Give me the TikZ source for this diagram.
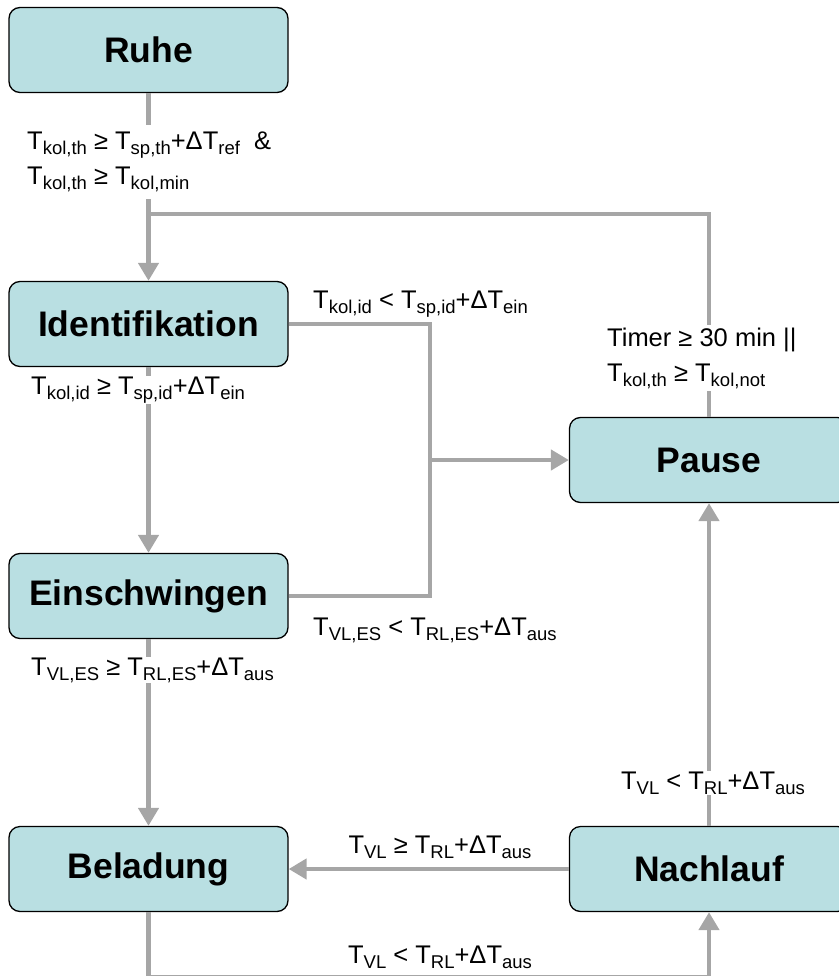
\documentclass[tikz,border=0pt]{standalone}
\usepackage{fontspec}
\setmainfont{Liberation Sans}
\usetikzlibrary{arrows.meta}
\definecolor{boxfill}{RGB}{185,223,226}
\definecolor{linegray}{RGB}{166,166,166}
% lowered, smaller index text
\newcommand\lo[1]{\raisebox{-5pt}{\fontsize{18.5}{18.5}\selectfont #1}}
\begin{document}
\begin{tikzpicture}[x=1pt,y=-1pt,
  state/.style={draw=black, line width=1.3pt, fill=boxfill, rounded corners=11pt,
    minimum width=279pt, minimum height=85pt, inner sep=0pt,
    font=\fontsize{35.5}{40}\selectfont\bfseries},
  conn/.style={draw=linegray, line width=4.5pt},
  arr/.style={conn, -{Triangle[width=20pt,length=18pt]}},
  cond/.style={inner sep=3pt, font=\fontsize{25.5}{35}\selectfont, align=left},
  gap/.style={cond, fill=white}]
\useasboundingbox (0,0) rectangle (838,976);

% states
\node[state] (ruhe)   at (148.5,50)  {Ruhe};
\node[state] (ident)  at (148.5,324) {Identifikation};
\node[state] (einsch) at (148.5,596) {Einschwingen};
\node[state] (belad)  at (148.5,869) {Beladung};
\node[state] (pause)  at (709,460)   {Pause};
\node[state] (nach)   at (709,869)   {Nachlauf};

% junction points
\coordinate (top)   at (148.5,214);
\coordinate (split) at (430,460);
\coordinate (floor) at (148.5,977);

% transitions
\draw[arr]  (ruhe.south) -- (ident.north);
\draw[conn] (pause.north) |- (top);
\draw[arr]  (ident.south) -- (einsch.north);
\draw[arr]  (einsch.south) -- (belad.north);
\draw[conn] (ident.east) -| (split |- einsch.east) -- (einsch.east);
\draw[arr]  (split) -- (pause.west);
\draw[arr]  (nach.west) -- (belad.east);
\draw[arr]  (nach.north) -- (pause.south);
\draw[arr]  (belad.south) -- (floor) -| (nach.south);

% transition conditions
\node[gap, anchor=west, inner ysep=7pt] (c1) at (24,162)
  {T\lo{kol,th} ≥ T\lo{sp,th}+ΔT\lo{ref}~~\&\\T\lo{kol,th} ≥ T\lo{kol,min}};
\node[gap, anchor=west] (c2) at (604,358)
  {Timer ≥ 30 min ||\\T\lo{kol,th} ≥ T\lo{kol,not}};
\node[cond, anchor=west] (c3) at (310,304) {T\lo{kol,id} < T\lo{sp,id}+ΔT\lo{ein}};
\node[gap, anchor=west, inner ysep=1pt] (c4) at (28,390) {T\lo{kol,id} ≥ T\lo{sp,id}+ΔT\lo{ein}};
\node[cond, anchor=west] (c5) at (310,630) {T\lo{VL,ES} < T\lo{RL,ES}+ΔT\lo{aus}};
\node[gap, anchor=west, inner ysep=1pt] (c6) at (28,670) {T\lo{VL,ES} ≥ T\lo{RL,ES}+ΔT\lo{aus}};
\node[cond] (c7) at (440,847) {T\lo{VL} ≥ T\lo{RL}+ΔT\lo{aus}};
\node[gap, inner ysep=1pt] (c8) at (713,783) {T\lo{VL} < T\lo{RL}+ΔT\lo{aus}};
\node[cond] (c9) at (440,957) {T\lo{VL} < T\lo{RL}+ΔT\lo{aus}};
\end{tikzpicture}
\end{document}
